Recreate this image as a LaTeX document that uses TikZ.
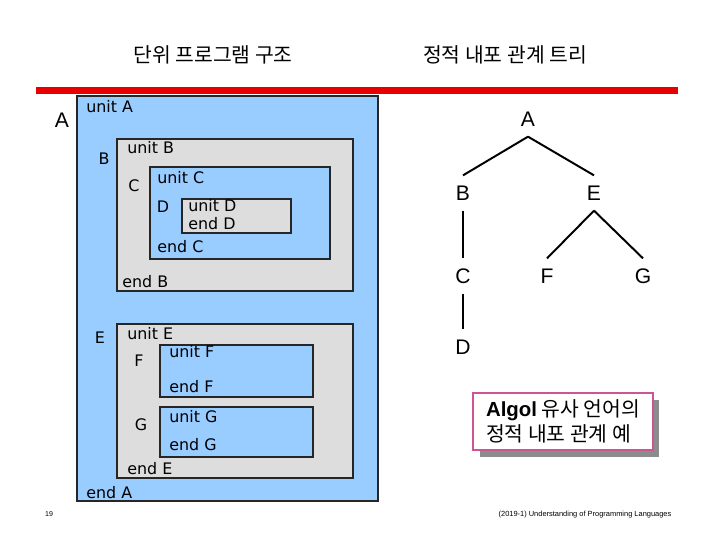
\documentclass[tikz,border=0pt]{standalone}
\usepackage{fontspec}
\setmainfont{DejaVu Sans}
\newfontfamily\treefont{Liberation Sans}
\newfontfamily\kofont{Noto Sans CJK KR}
\usetikzlibrary{shadows}
\definecolor{unitblue}{RGB}{153,204,255}
\definecolor{unitgray}{RGB}{221,221,221}
\definecolor{rulered}{RGB}{230,0,0}
\definecolor{notepink}{RGB}{204,85,150}
\tikzset{
  bluebox/.style={draw=black!85,fill=unitblue,line width=0.8pt},
  graybox/.style={draw=black!85,fill=unitgray,line width=0.8pt},
  kw/.style={anchor=west,inner sep=0pt,font=\fontsize{11.3}{13}\selectfont},
  tag/.style={inner sep=0pt,font=\fontsize{11.3}{13}\selectfont},
  leaf/.style={inner sep=7pt,text height=10.7pt,text depth=0pt,
    font=\treefont\fontsize{15}{15}\selectfont},
  edge/.style={line width=1.4pt},
  heading/.style={inner sep=0pt,font=\kofont\fontsize{14.5}{16}\selectfont}
}
\begin{document}
\begin{tikzpicture}[x=0.025cm,y=-0.025cm]
  \useasboundingbox (0,0) rectangle (720,540);
  % Headings and red rule
  \node[heading] (lefthead) at (213,55) {단위 프로그램 구조};
  \node[heading] (righthead) at (505,55) {정적 내포 관계 트리};
  \fill[rulered] (36,87) rectangle (678,94);
  % Nested units
  \draw[bluebox] (77,96) rectangle (378,501);
  \draw[graybox] (117,139) rectangle (353,291);
  \draw[bluebox] (150,167) rectangle (330,259);
  \draw[graybox] (182,199) rectangle (291,233);
  \draw[graybox] (117,324) rectangle (353,478);
  \draw[bluebox] (160,345) rectangle (313,397);
  \draw[bluebox] (160,407) rectangle (313,457);
  \node[leaf,inner sep=0pt] (nameA) at (62,120) {A};
  \node[kw] (unitA) at (86,107) {unit A};
  \node[tag] (nameB) at (104,159) {B};
  \node[kw] (unitB) at (127,148) {unit B};
  \node[tag] (nameC) at (134,186) {C};
  \node[kw] (unitC) at (157,178) {unit C};
  \node[tag] (nameD) at (163,207) {D};
  \node[kw] (unitD) at (188,206) {unit D};
  \node[kw] (endD) at (188,224) {end D};
  \node[kw] (endC) at (157,247) {end C};
  \node[kw] (endB) at (122,282) {end B};
  \node[tag] (nameE) at (100,338) {E};
  \node[kw] (unitE) at (127,334) {unit E};
  \node[tag] (nameF) at (139,361) {F};
  \node[kw] (unitF) at (169,352) {unit F};
  \node[kw] (endF) at (169,387) {end F};
  \node[tag] (nameG) at (141,425) {G};
  \node[kw] (unitG) at (169,417) {unit G};
  \node[kw] (endG) at (169,445) {end G};
  \node[kw] (endE) at (127,469) {end E};
  \node[kw] (endA) at (86,493) {end A};
  % Static nesting tree
  \node[leaf] (tA) at (528,119) {A};
  \node[leaf] (tB) at (463,193) {B};
  \node[leaf] (tE) at (594,193) {E};
  \node[leaf] (tC) at (463,276) {C};
  \node[leaf] (tF) at (547,276) {F};
  \node[leaf] (tG) at (643,276) {G};
  \node[leaf] (tD) at (463,347) {D};
  \draw[edge] (tA.south) -- (tB.north);
  \draw[edge] (tA.south) -- (tE.north);
  \draw[edge] (tB.south) -- (tC.north);
  \draw[edge] (tC.south) -- (tD.north);
  \draw[edge] (tE.south) -- (tF.north);
  \draw[edge] (tE.south) -- (tG.north);
  % Note box
  \node[draw=notepink,line width=1.2pt,fill=white,minimum width=127.6pt,
    minimum height=40.4pt,inner sep=4pt,align=left,
    drop shadow={shadow xshift=4.5pt,shadow yshift=-5pt,fill=black!45,opacity=1},
    font=\kofont\fontsize{14.5}{17.7}\selectfont]
    (note) at (563,421.5) {{\treefont\bfseries Algol} 유사 언어의\\정적 내포 관계 예};
  % Footer
  \node[inner sep=0pt,font=\treefont\fontsize{5}{6}\selectfont] (page) at (49,514) {19};
  \node[inner sep=0pt,font=\treefont\fontsize{5.3}{6}\selectfont] (footer) at (585,515)
    {(2019-1) Understanding of Programming Languages};
\end{tikzpicture}
\end{document}
